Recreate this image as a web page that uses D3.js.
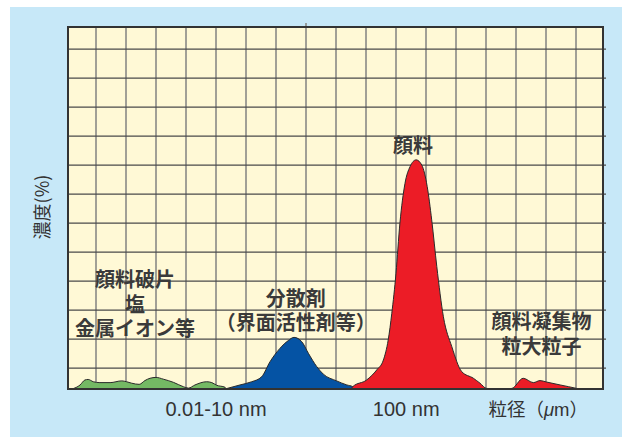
<!DOCTYPE html>
<html>
<head>
<meta charset="utf-8">
<script src="https://cdn.jsdelivr.net/npm/d3@7"></script>
<style>
  body { margin: 0; background: #fff; }
  svg { display: block; }
</style>
</head>
<body>
<div id="chart"></div>
<script>
// x in grid columns (particle size, log-ish), y in grid rows (concentration)
const greenX = [0.20, 0.47, 0.63, 0.74, 0.91, 1.13, 1.47, 1.86, 2.02, 2.19, 2.44, 2.63, 2.80, 3.00, 3.24, 3.58, 3.91, 4.08, 4.30, 4.69, 4.86, 5.02, 5.30, 5.34];
const greenY = [0.00, 0.14, 0.31, 0.33, 0.25, 0.22, 0.22, 0.28, 0.25, 0.20, 0.16, 0.29, 0.37, 0.40, 0.34, 0.23, 0.08, 0.03, 0.14, 0.25, 0.22, 0.13, 0.06, 0.00];

const blueX = [5.30, 5.80, 6.19, 6.52, 6.80, 7.13, 7.41, 7.60, 7.86, 8.08, 8.36, 8.58, 9.02, 9.36, 9.56, 9.62];
const blueY = [0.00, 0.14, 0.25, 0.42, 0.94, 1.40, 1.67, 1.78, 1.63, 1.23, 0.77, 0.51, 0.28, 0.14, 0.08, 0.00];

const redX = [9.50, 9.56, 10.02, 10.36, 10.58, 10.74, 10.86, 11.00, 11.13, 11.30, 11.47, 11.67, 11.86, 12.04, 12.19, 12.36, 12.58, 12.86, 13.19, 13.58, 13.80, 14.02, 14.47, 14.86, 15.24, 15.58, 15.80, 16.02, 16.47, 17.02, 17.10];
const redY = [0.00, 0.08, 0.31, 0.66, 1.00, 1.69, 2.61, 3.99, 5.71, 7.09, 7.67, 7.90, 7.72, 6.98, 5.83, 4.22, 2.49, 1.46, 0.60, 0.37, 0.20, 0.02, 0.00, 0.02, 0.37, 0.22, 0.29, 0.24, 0.14, 0.02, 0.00];

const xTickLabels = [
  {x: 5.00, text: "0.01-10 nm"},
  {x: 11.34, text: "100 nm"}
];
const unitLabel = {x: 15.74, pre: "粒径（", mu: "μ", post: "m）"};
const yLabel = "濃度(%)";

const annotations = [
  {x: 2.30, y: [3.75, 2.9, 2.07], lines: ["顔料破片", "塩", "金属イオン等"]},
  {x: 7.66, y: [3.1, 2.28], lines: ["分散剤", "（界面活性剤等）"]},
  {x: 11.57, y: [8.4], lines: ["顔料"]},
  {x: 15.85, y: [2.31, 1.46], lines: ["顔料凝集物", "粒大粒子"]}
];

const W = 622, H = 437;
const plot = {left: 68, top: 27, right: 603, bottom: 389};

const svg = d3.select("#chart").append("svg")
  .attr("width", W)
  .attr("height", H);

// background panel
svg.append("rect")
  .attr("x", 10).attr("y", 7)
  .attr("width", W - 10).attr("height", H - 7)
  .attr("fill", "#c7e8f8");

const x = d3.scaleLinear().domain([0, 18]).range([66, 606]);
const y = d3.scaleLinear().domain([0, 12.48]).range([plot.bottom, plot.top]);

svg.append("defs").append("clipPath")
  .attr("id", "plotclip")
  .append("rect")
  .attr("x", plot.left).attr("y", plot.top)
  .attr("width", plot.right - plot.left).attr("height", plot.bottom - plot.top);

svg.append("rect")
  .attr("x", plot.left).attr("y", plot.top)
  .attr("width", plot.right - plot.left).attr("height", plot.bottom - plot.top)
  .attr("fill", "#fff9d6");

//Grid
svg.append("g")
  .selectAll("line")
  .data(d3.range(1, 18))
  .join("line")
    .attr("x1", d => x(d)).attr("x2", d => x(d))
    .attr("y1", d => d === 8 ? plot.top - 4 : plot.top)
    .attr("y2", plot.bottom)
    .attr("stroke", "#8a8a86")
    .attr("stroke-width", 1.6);

svg.append("g")
  .selectAll("line")
  .data(d3.range(12).map(i => 0.72 + i))
  .join("line")
    .attr("x1", plot.left).attr("x2", plot.right + 3)
    .attr("y1", d => y(d)).attr("y2", d => y(d))
    .attr("stroke", "#4a4a4a")
    .attr("stroke-width", 1.3);

//Areas
const area = d3.area()
  .curve(d3.curveMonotoneX)
  .x(d => x(d[0]))
  .y0(y(0))
  .y1(d => y(d[1]));

const line = d3.line()
  .curve(d3.curveMonotoneX)
  .x(d => x(d[0]))
  .y(d => y(d[1]));

const series = [
  {xs: greenX, ys: greenY, color: "#74b964"},
  {xs: blueX, ys: blueY, color: "#0553a4"},
  {xs: redX, ys: redY, color: "#ec1c26"}
];

const areas = svg.append("g").attr("clip-path", "url(#plotclip)");
series.forEach(s => {
  const pts = s.xs.map((v, i) => [v, s.ys[i]]);
  areas.append("path")
    .datum(pts)
    .attr("fill", s.color)
    .attr("d", area);
  areas.append("path")
    .datum(pts)
    .attr("fill", "none")
    .attr("stroke", "#2a2a2a")
    .attr("stroke-width", 1)
    .attr("d", line);
});

//Frame
svg.append("rect")
  .attr("x", plot.left).attr("y", plot.top)
  .attr("width", plot.right - plot.left).attr("height", plot.bottom - plot.top)
  .attr("fill", "none")
  .attr("stroke", "#333")
  .attr("stroke-width", 2);

const jp = "'Noto Sans CJK JP', 'Noto Sans', sans-serif";
const textColor = "#333333";

//Annotations
annotations.forEach(a => {
  a.lines.forEach((t, i) => {
    svg.append("text")
      .attr("x", x(a.x))
      .attr("y", y(a.y[i]))
      .attr("dy", "0.36em")
      .attr("text-anchor", "middle")
      .style("font-family", jp)
      .style("font-size", "20px")
      .style("font-weight", "bold")
      .attr("fill", "#3a3a3a")
      .text(t);
  });
});

//X labels
xTickLabels.forEach(d => {
  svg.append("text")
    .attr("x", x(d.x))
    .attr("y", 409)
    .attr("dy", "0.36em")
    .attr("text-anchor", "middle")
    .style("font-family", "'Liberation Sans', Arial, sans-serif")
    .style("font-size", "20px")
    .attr("fill", textColor)
    .text(d.text);
});

const ul = svg.append("text")
  .attr("x", x(unitLabel.x))
  .attr("y", 409)
  .attr("dy", "0.36em")
  .attr("text-anchor", "middle")
  .style("font-family", jp)
  .style("font-size", "18.5px")
  .attr("fill", textColor);
ul.append("tspan").text(unitLabel.pre);
ul.append("tspan").style("font-style", "italic").style("font-family", "'Liberation Sans', sans-serif").text(unitLabel.mu);
ul.append("tspan").style("font-family", "'Liberation Sans', sans-serif").text(unitLabel.post.slice(0, 1));
ul.append("tspan").text(unitLabel.post.slice(1));

//Y label
svg.append("text")
  .attr("transform", `translate(43,207) rotate(-90)`)
  .attr("dy", "0.36em")
  .attr("text-anchor", "middle")
  .style("font-family", jp)
  .style("font-size", "18px")
  .attr("fill", textColor)
  .text(yLabel);
</script>
</body>
</html>
